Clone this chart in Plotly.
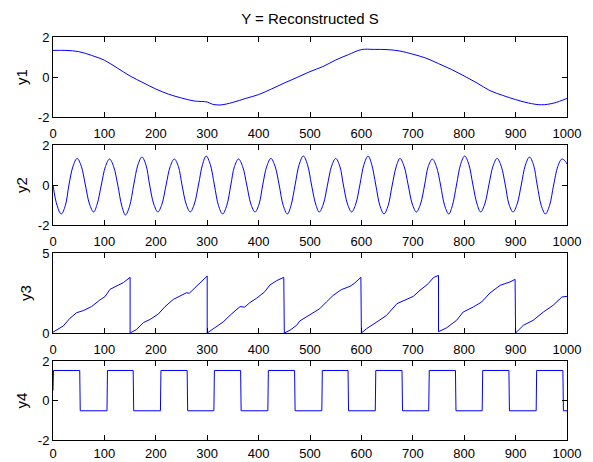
import plotly.graph_objects as go

# ---------------- data ----------------
y1_x = [0, 25, 50, 75, 100, 125, 150, 175, 200, 225, 250, 275, 300, 310, 325, 350, 375,
        400, 425, 450, 475, 500, 525, 550, 575, 600, 625, 650, 675, 700, 725, 750, 775,
        800, 825, 850, 875, 900, 925, 950, 975, 1000]
y1_v = [1.33, 1.33, 1.27, 1.08, 0.84, 0.45, 0.05, -0.28, -0.6, -0.86, -1.05, -1.2, -1.25,
        -1.36, -1.4, -1.27, -1.07, -0.88, -0.6, -0.3, -0.02, 0.27, 0.52, 0.85, 1.12, 1.37,
        1.38, 1.37, 1.3, 1.14, 0.95, 0.67, 0.38, 0.05, -0.3, -0.68, -0.92, -1.13, -1.3,
        -1.39, -1.3, -1.07]

y2_x = [0, 8, 16, 24, 31, 39, 47, 55, 63, 71, 79, 86, 94, 102, 110, 118,
        126, 134, 141, 149, 157, 165, 173, 181, 188, 196, 204, 212, 220, 228, 236, 244,
        251, 259, 267, 275, 283, 291, 298, 306, 314, 322, 330, 338, 346, 353, 361, 369,
        377, 385, 393, 401, 408, 416, 424, 432, 440, 448, 456, 463, 471, 479, 487, 495,
        503, 511, 518, 526, 534, 542, 550, 558, 565, 573, 581, 589, 597, 605, 613, 620,
        628, 636, 644, 652, 660, 668, 675, 683, 691, 699, 707, 715, 723, 730, 738, 746,
        754, 762, 770, 777, 785, 793, 801, 809, 817, 825, 832, 840, 848, 856, 864, 872,
        880, 887, 895, 903, 911, 919, 927, 935, 942, 950, 958, 966, 974, 982, 990, 997,
        1000]
y2_v = [0, -1.03, -1.45, -1.03, 0, 0.94, 1.33, 0.94,
        0, -0.95, -1.35, -0.95, 0, 0.92, 1.30, 0.92,
        0, -1.06, -1.50, -1.06, 0, 0.99, 1.40, 0.99,
        0, -0.95, -1.35, -0.95, 0, 0.92, 1.30, 0.92,
        0, -0.95, -1.35, -0.95, 0, 1.03, 1.45, 1.03,
        0, -1.03, -1.45, -1.03, 0, 0.92, 1.30, 0.92,
        0, -0.95, -1.35, -0.95, 0, 0.94, 1.33, 0.94,
        0, -1.03, -1.45, -1.03, 0, 1.03, 1.45, 1.03,
        0, -0.95, -1.35, -0.95, 0, 0.94, 1.33, 0.94,
        0, -0.95, -1.35, -0.95, 0, 1.03, 1.45, 1.03,
        0, -1.03, -1.45, -1.03, 0, 0.94, 1.33, 0.94,
        0, -0.95, -1.35, -0.95, 0, 0.92, 1.30, 0.92,
        0, -1.03, -1.45, -1.03, 0, 1.03, 1.45, 1.03,
        0, -0.95, -1.35, -0.95, 0, 0.94, 1.33, 0.94,
        0, -0.95, -1.35, -0.95, 0, 0.99, 1.40, 0.99,
        0, -1.03, -1.45, -1.03, 0, 0.92, 1.30, 1.18,
        1.05]

y3_x = [0, 10, 20, 33, 46, 59, 75, 91, 101, 111, 124, 137, 150,
        150, 163, 176, 189, 205, 218, 234, 247, 260, 265, 273, 286, 300,
        300, 312, 331, 348, 364, 373, 383, 396, 412, 422, 435, 449,
        450, 461, 474, 480, 500, 519, 532, 545, 561, 578, 587, 599,
        600, 610, 630, 649, 669, 688, 701, 714, 730, 740, 750,
        750, 766, 785, 798, 818, 834, 850, 870, 889, 899,
        900, 915, 934, 954, 973, 990, 1000]
y3_v = [0.05, 0.23, 0.44, 0.92, 1.27, 1.4, 1.65, 2.06, 2.27, 2.73, 2.94, 3.15, 3.48,
        0.0, 0.23, 0.65, 0.85, 1.19, 1.65, 2.1, 2.31, 2.52, 2.48, 2.73, 3.1, 3.56,
        0.0, 0.27, 0.69, 1.21, 1.65, 1.62, 1.9, 2.17, 2.58, 3.0, 3.27, 3.48,
        0.0, 0.17, 0.48, 0.75, 1.15, 1.52, 1.94, 2.35, 2.71, 2.92, 3.12, 3.48,
        0.0, 0.27, 0.69, 1.1, 1.83, 2.08, 2.29, 2.67, 3.08, 3.46, 3.6,
        0.08, 0.33, 0.79, 1.31, 1.63, 1.94, 2.5, 2.98, 3.19, 3.35,
        0.0, 0.48, 0.79, 1.31, 1.73, 2.25, 2.29]

y4_x = [0, 1, 52, 53, 105, 106, 156, 157, 209, 210, 261, 262, 313, 314, 365, 366, 418, 419,
        470, 471, 523, 524, 574, 575, 627, 628, 679, 680, 731, 732, 783, 784, 835, 836,
        887, 888, 940, 941, 992, 993, 1000]
y4_v = [0.5, 1.52, 1.52, -0.52, -0.52, 1.52, 1.52, -0.52, -0.52, 1.52, 1.52, -0.52, -0.52,
        1.52, 1.52, -0.52, -0.52, 1.52, 1.52, -0.52, -0.52, 1.52, 1.52, -0.52, -0.52, 1.52,
        1.52, -0.52, -0.52, 1.52, 1.52, -0.52, -0.52, 1.52, 1.52, -0.52, -0.52, 1.52, 1.52,
        -0.52, -0.52]

x_ticks = [0, 100, 200, 300, 400, 500, 600, 700, 800, 900, 1000]
title_text = "Y = Reconstructed S"
y_titles = ["y1", "y2", "y3", "y4"]
y_ranges = [[-2, 2], [-2, 2], [0, 5], [-2, 2]]
y_tickvals = [[-2, 0, 2], [-2, 0, 2], [0, 5], [-2, 0, 2]]

# ---------------- figure ----------------
W, H = 593, 462
left, right = 53, 567
panels = [(37, 117), (145, 225), (253, 333), (361, 440)]

FONT = "Arial, 'Liberation Sans', Helvetica, sans-serif"
blue = "rgb(0,0,255)"

series = [(y1_x, y1_v, "spline"), (y2_x, y2_v, "spline"), (y3_x, y3_v, "linear"),
          (y4_x, y4_v, "linear")]

fig = go.Figure()
for i, (xs, ys, shape) in enumerate(series):
    suffix = "" if i == 0 else str(i + 1)
    fig.add_trace(go.Scatter(x=xs, y=ys, mode="lines",
                             line=dict(color=blue, width=1, shape=shape, smoothing=1.0),
                             xaxis="x" + suffix, yaxis="y" + suffix, showlegend=False,
                             hoverinfo="skip"))

layout = dict(width=W, height=H, margin=dict(l=0, r=0, t=0, b=0, autoexpand=False),
              template="none",
              paper_bgcolor="white", plot_bgcolor="white",
              font=dict(family=FONT, size=13, color="black"),
              title=dict(text=title_text, x=(left + right) / 2 / W, xanchor="center",
                         xref="paper", yref="container",
                         y=1 - 19 / H, yanchor="middle",
                         font=dict(family=FONT, size=15, color="black")))

for i, (top, bot) in enumerate(panels):
    suffix = "" if i == 0 else str(i + 1)
    layout["xaxis" + suffix] = dict(
        domain=[left / W, right / W], anchor="y" + suffix, range=[0, 1000],
        tickvals=x_ticks, ticktext=[str(t) for t in x_ticks],
        ticks="inside", ticklen=5, tickcolor="black", tickwidth=1,
        showline=True, linecolor="black", linewidth=1, mirror="ticks",
        showgrid=False, zeroline=False, tickfont=dict(size=13, family=FONT),
        ticklabelstandoff=(4 if i < 3 else 1), automargin=False, fixedrange=True)
    layout["yaxis" + suffix] = dict(
        domain=[1 - bot / H, 1 - top / H], anchor="x" + suffix, range=y_ranges[i],
        tickvals=y_tickvals[i], ticktext=[str(t) for t in y_tickvals[i]],
        ticks="inside", ticklen=5, tickcolor="black", tickwidth=1,
        showline=True, linecolor="black", linewidth=1, mirror="ticks",
        showgrid=False, zeroline=False, tickfont=dict(size=13, family=FONT),
        title=dict(text=y_titles[i], standoff=6, font=dict(size=15, family=FONT)),
        automargin=False, fixedrange=True)

fig.update_layout(**layout)
fig.write_html("out.html")
